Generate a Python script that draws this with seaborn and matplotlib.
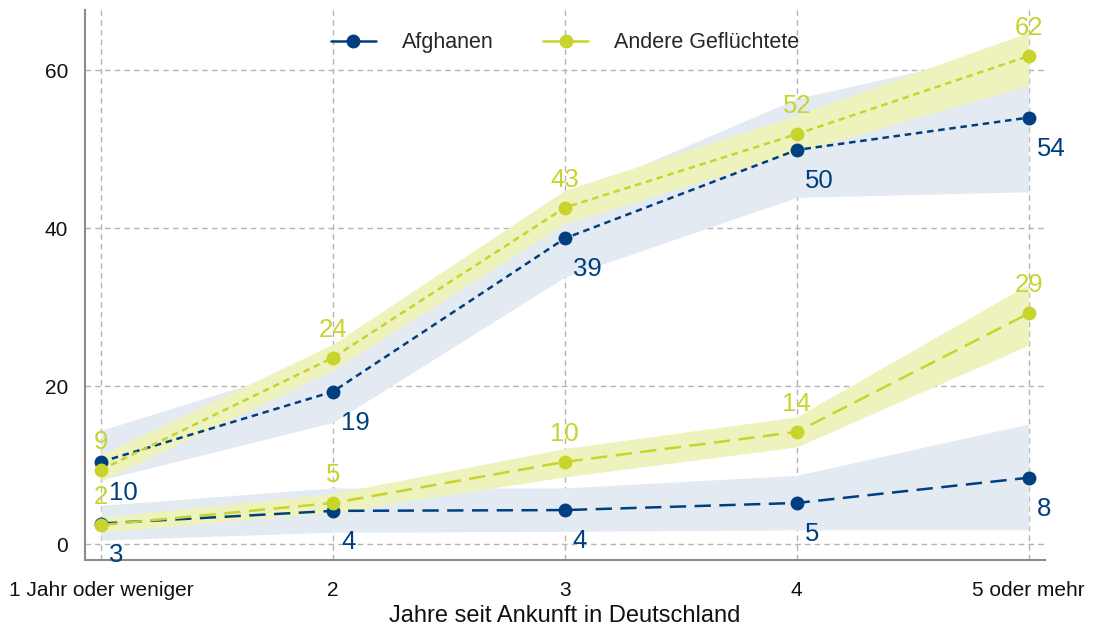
import matplotlib
matplotlib.use("Agg")
import matplotlib.pyplot as plt
from matplotlib.lines import Line2D
import seaborn as sns
import pandas as pd

categories = ["1 Jahr oder weniger", "2", "3", "4", "5 oder mehr"]

# upper (dotted) series
afg_up = [10.4, 19.3, 38.7, 49.9, 54.0]
afg_up_lo = [8.1, 15.4, 33.8, 43.9, 44.6]
afg_up_hi = [14.4, 23.5, 43.8, 56.4, 63.0]
and_up = [9.4, 23.6, 42.6, 51.9, 61.8]
and_up_lo = [8.0, 22.0, 40.6, 49.6, 58.1]
and_up_hi = [11.3, 25.3, 44.8, 54.3, 64.8]

# lower (dashed) series
afg_lo = [2.6, 4.2, 4.3, 5.2, 8.4]
afg_lo_lo = [0.5, 1.5, 1.6, 1.8, 1.8]
afg_lo_hi = [4.9, 7.1, 7.1, 8.7, 15.2]
and_lo = [2.4, 5.2, 10.4, 14.2, 29.2]
and_lo_lo = [1.5, 4.0, 8.5, 12.3, 25.2]
and_lo_hi = [3.4, 6.4, 12.1, 16.1, 32.9]

legend_labels = ["Afghanen", "Andere Geflüchtete"]
xlabel = "Jahre seit Ankunft in Deutschland"
yticks = [0, 20, 40, 60]

BLUE = "#003f7f"
YEL = "#c8d42c"
BLUE_BAND = "#e4eaf2"
YEL_BAND = "#eef2bd"

sns.set_theme(style="white")
plt.rcParams["font.family"] = ["Liberation Sans", "DejaVu Sans"]

fig = plt.figure(figsize=(10.93, 6.35), dpi=100)
ax = fig.add_axes([0.0778, 0.118, 0.878, 0.866])

# bands
ax.fill_between(categories, afg_up_lo, afg_up_hi, color=BLUE_BAND, lw=0, zorder=1)
ax.fill_between(categories, afg_lo_lo, afg_lo_hi, color=BLUE_BAND, lw=0, zorder=1)
ax.fill_between(categories, and_up_lo, and_up_hi, color=YEL_BAND, lw=0, zorder=2)
ax.fill_between(categories, and_lo_lo, and_lo_hi, color=YEL_BAND, lw=0, zorder=2)

LW = 1.8
dot = (0, (2.6, 1.9))
dash = (0, (6.5, 3.4))

series = [
    (afg_up, BLUE, dot, "below"),
    (and_up, YEL, dot, "above"),
    (afg_lo, BLUE, dash, "below"),
    (and_lo, YEL, dash, "above"),
]
for vals, col, ls, pos in series:
    df = pd.DataFrame({"x": categories, "y": vals})
    sns.lineplot(data=df, x="x", y="y", ax=ax, color=col, linestyle=ls, lw=LW,
                 marker="o", markersize=10, markeredgewidth=0, sort=False, zorder=4)
    for c, v in zip(categories, vals):
        lab = str(int(round(v)))
        if pos == "below":
            ax.annotate(lab, (c, v), xytext=(8, -31), textcoords="offset pixels",
                        ha="left", va="center", color=col, fontsize=18.5, zorder=5)
        else:
            ax.annotate(lab, (c, v), xytext=(0, 28), textcoords="offset pixels",
                        ha="center", va="center", color=col, fontsize=18.5, zorder=5)

ax.set_xlim(-0.069, 4.069)
ax.set_ylim(-2.03, 67.6)
ax.set_yticks(yticks)
ax.set_yticklabels([str(t) for t in yticks])
ax.set_xlabel(xlabel, fontsize=17, color="#111111", labelpad=4)
ax.set_ylabel("")

ax.grid(True, axis="both", color="#b4b4b4", linestyle=(0, (4, 3)), lw=1.0, zorder=0)
ax.set_axisbelow(True)
for s in ["top", "right"]:
    ax.spines[s].set_visible(False)
for s in ["left", "bottom"]:
    ax.spines[s].set_color("#8c8c8c")
    ax.spines[s].set_linewidth(1.5)
ax.tick_params(axis="both", length=0, labelsize=15, colors="#111111")
ax.tick_params(axis="y", pad=12)
ax.tick_params(axis="x", pad=15)

handles = [
    Line2D([], [], color=BLUE, lw=LW, marker="o", markersize=10, markeredgewidth=0),
    Line2D([], [], color=YEL, lw=LW, marker="o", markersize=10, markeredgewidth=0),
]
ax.legend(handles, legend_labels, loc="upper center", bbox_to_anchor=(0.5, 0.995), ncol=2,
          frameon=False, fontsize=15.5, handlelength=2.1, columnspacing=2.3, handletextpad=1.2)

fig.savefig("out.png", dpi=100)
